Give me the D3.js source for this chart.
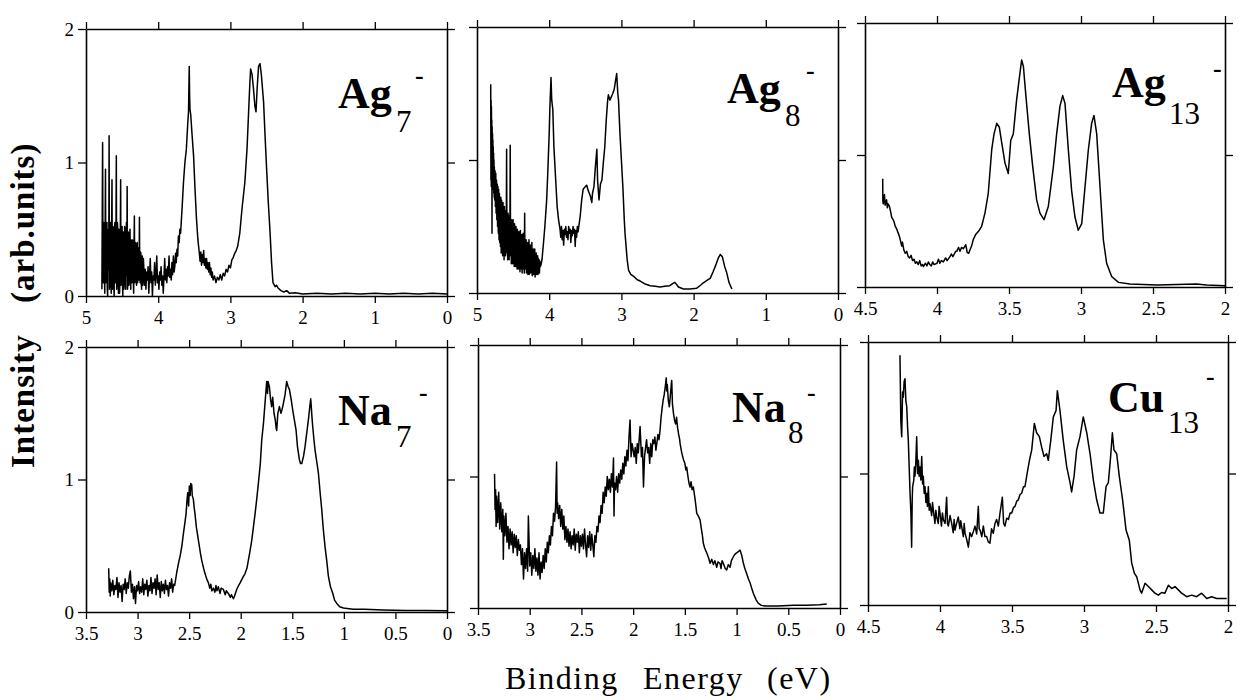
<!DOCTYPE html>
<html><head><meta charset="utf-8">
<script src="https://cdn.jsdelivr.net/npm/d3@7"></script>
<style>
html,body{margin:0;padding:0;background:#fff;}
svg text{font-family:"Liberation Serif","Tinos","Times New Roman","DejaVu Serif",serif;}
</style></head>
<body>
<svg id="chart" width="1239" height="700"></svg>
<script>
// ---------- DATA (binding energy eV, intensity arb. units) ----------
const ag7Data = [
[4.78,0.05],[4.775,0.6],[4.77,1.15],[4.765,0.3],[4.76,0.10],[4.755,0.45],[4.75,0.55],[4.745,0.15],[4.74,0.02],[4.735,0.5],
[4.73,0.95],[4.725,0.1],[4.72,0.25],[4.715,0.5],[4.71,0.55],[4.705,0.05],[4.70,0.00],[4.695,0.45],[4.69,0.50],[4.685,0.2],
[4.68,1.20],[4.675,0.05],[4.67,0.15],[4.665,0.5],[4.66,0.55],[4.655,0.1],[4.65,0.02],[4.645,0.5],[4.64,0.87],[4.635,0.05],
[4.63,0.20],[4.625,0.52],[4.62,0.50],[4.615,0.08],[4.61,0.00],[4.605,0.48],[4.60,0.55],[4.595,0.2],[4.59,0.10],[4.585,0.5],
[4.58,1.05],[4.575,0.05],[4.57,0.30],[4.565,0.55],[4.56,0.50],[4.555,0.1],[4.55,0.02],[4.545,0.5],[4.54,0.48],[4.535,0.02],
[4.53,0.12],[4.525,0.45],[4.52,0.87],[4.515,0.08],[4.51,0.25],[4.505,0.5],[4.50,0.52],[4.495,0.1],[4.49,0.00],[4.485,0.48],
[4.48,0.45],[4.475,0.05],[4.47,0.15],[4.465,0.52],[4.46,0.50],[4.455,0.12],[4.45,0.05],[4.445,0.45],[4.44,0.55],[4.435,0.15],
[4.43,0.82],[4.425,0.05],[4.42,0.10],[4.415,0.48],[4.41,0.45],[4.405,0.08],[4.40,0.20],[4.395,0.45],[4.39,0.50],[4.385,0.15],
[4.38,0.05],[4.375,0.40],[4.37,0.42],[4.365,0.1],[4.36,0.15],[4.355,0.42],[4.35,0.40],[4.345,0.12],[4.34,0.02],[4.335,0.38],
[4.33,0.60],[4.325,0.1],[4.32,0.20],[4.315,0.4],[4.31,0.38],[4.305,0.12],[4.30,0.08],[4.295,0.38],[4.29,0.40],[4.285,0.1],
[4.28,0.15],[4.275,0.36],[4.27,0.35],[4.265,0.12],[4.26,0.59],[4.255,0.15],[4.25,0.10],[4.245,0.33],[4.24,0.32],[4.235,0.1],
[4.23,0.05],[4.225,0.3],[4.22,0.30],[4.215,0.08],[4.21,0.12],[4.205,0.28],[4.20,0.22],[4.19,0.08],
[4.18,0.20],[4.17,0.05],[4.16,0.18],[4.15,0.12],[4.14,0.22],[4.13,0.02],[4.12,0.15],[4.11,0.28],[4.10,0.10],[4.09,0.18],
[4.08,0.00],[4.07,0.15],[4.06,0.12],[4.05,0.25],[4.04,0.08],[4.03,0.16],[4.02,0.30],[4.01,0.10],[4.00,0.15],[3.99,0.05],
[3.98,0.18],[3.97,0.12],[3.96,0.22],[3.95,0.08],[3.94,0.15],[3.93,0.02],[3.92,0.14],[3.91,0.28],[3.90,0.12],[3.89,0.20],
[3.88,0.10],[3.87,0.22],[3.86,0.15],[3.85,0.30],[3.84,0.14],[3.83,0.20],[3.82,0.12],[3.81,0.25],[3.80,0.16],[3.79,0.30],
[3.78,0.18],[3.77,0.22],[3.76,0.32],[3.75,0.25],[3.74,0.35],[3.73,0.30],[3.72,0.45],[3.71,0.40],[3.70,0.50],[3.69,0.47],
[3.67,0.65],[3.65,0.85],[3.63,1.00],[3.61,1.10],[3.59,1.30],[3.58,1.38],[3.575,1.55],[3.57,1.72],[3.565,1.50],[3.56,1.40],
[3.55,1.36],[3.53,1.20],[3.51,1.05],[3.49,0.80],[3.47,0.58],[3.45,0.42],[3.43,0.32],[3.42,0.26],[3.41,0.33],[3.40,0.23],
[3.39,0.31],[3.38,0.25],[3.37,0.34],[3.36,0.23],[3.35,0.28],[3.34,0.21],[3.33,0.28],[3.32,0.20],[3.31,0.25],[3.30,0.18],
[3.29,0.25],[3.28,0.16],[3.27,0.21],[3.26,0.14],[3.25,0.18],[3.24,0.12],[3.22,0.15],[3.20,0.10],[3.18,0.14],[3.16,0.12],
[3.14,0.16],[3.12,0.12],[3.10,0.17],[3.08,0.15],[3.06,0.20],[3.04,0.18],[3.02,0.23],[3.00,0.21],[2.98,0.27],[2.96,0.29],
[2.94,0.32],[2.92,0.34],[2.90,0.37],[2.87,0.47],[2.84,0.65],[2.80,0.85],[2.77,1.10],[2.75,1.35],[2.73,1.60],[2.72,1.70],
[2.70,1.66],[2.68,1.55],[2.66,1.42],[2.645,1.38],[2.63,1.55],[2.61,1.72],[2.59,1.74],[2.57,1.65],[2.54,1.45],[2.52,1.20],
[2.50,0.97],[2.475,0.70],[2.45,0.47],[2.43,0.25],[2.41,0.10],[2.38,0.07],[2.36,0.08],[2.34,0.06],[2.30,0.04],[2.26,0.03],
[2.22,0.04],[2.18,0.02],[2.10,0.025],[2.00,0.015],[1.80,0.02],[1.60,0.015],[1.40,0.02],[1.20,0.015],[1.00,0.02],[0.80,0.015],
[0.60,0.02],[0.40,0.015],[0.20,0.02],[0.00,0.015]
];
const ag8Data = [
[4.81,1.57],[4.807,0.85],[4.805,1.45],[4.802,0.80],[4.80,1.40],[4.797,0.9],[4.795,1.30],[4.792,0.45],[4.79,1.25],[4.787,0.85],
[4.785,1.20],[4.782,0.80],[4.78,1.15],[4.777,0.78],[4.775,1.10],[4.772,0.80],[4.77,1.05],[4.767,0.75],[4.765,1.0],[4.762,0.72],
[4.76,0.95],[4.755,0.70],[4.75,0.92],[4.745,0.65],[4.74,0.90],[4.735,0.60],[4.73,0.85],[4.725,0.55],[4.72,0.82],[4.715,0.50],
[4.71,0.80],[4.705,0.45],[4.70,0.78],[4.695,0.40],[4.69,0.75],[4.685,0.38],[4.68,0.72],[4.675,0.35],[4.67,0.72],[4.665,0.30],
[4.66,0.70],[4.655,0.35],[4.65,0.68],[4.645,0.28],[4.64,0.68],[4.635,0.40],[4.63,0.65],[4.625,0.25],[4.62,0.65],[4.615,0.35],
[4.61,0.62],[4.605,0.28],[4.60,0.62],[4.595,0.40],[4.59,1.08],[4.585,0.30],[4.58,0.60],[4.575,0.25],[4.57,0.60],[4.565,0.35],
[4.56,0.58],[4.555,0.25],[4.55,0.58],[4.545,0.30],[4.54,1.11],[4.535,0.28],[4.53,0.55],[4.525,0.22],[4.52,0.55],[4.515,0.30],
[4.51,0.52],[4.505,0.22],[4.50,0.55],[4.495,0.28],[4.49,0.50],[4.485,0.20],[4.48,0.52],[4.475,0.25],[4.47,0.48],[4.465,0.20],
[4.46,0.50],[4.455,0.22],[4.45,0.47],[4.445,0.18],[4.44,0.48],[4.435,0.25],[4.43,0.45],[4.425,0.18],[4.42,0.46],[4.415,0.22],
[4.41,0.44],[4.405,0.16],[4.40,0.47],[4.395,0.22],[4.39,0.42],[4.385,0.18],[4.38,0.44],[4.375,0.15],[4.37,0.42],[4.365,0.22],
[4.36,0.45],[4.355,0.18],[4.35,0.40],[4.345,0.15],[4.34,0.60],[4.335,0.18],[4.33,0.40],[4.325,0.20],[4.32,0.40],[4.315,0.15],
[4.31,0.38],[4.305,0.18],[4.30,0.38],[4.295,0.14],[4.29,0.36],[4.285,0.20],[4.28,0.40],[4.275,0.14],[4.27,0.35],[4.265,0.18],
[4.26,0.36],[4.255,0.15],[4.25,0.34],[4.245,0.18],[4.24,0.38],[4.235,0.13],[4.23,0.32],[4.225,0.16],[4.22,0.33],[4.215,0.14],
[4.21,0.30],[4.205,0.18],[4.20,0.33],[4.195,0.12],[4.19,0.30],[4.185,0.15],[4.18,0.30],[4.175,0.14],[4.17,0.28],[4.165,0.16],
[4.16,0.28],[4.155,0.14],[4.15,0.26],[4.145,0.16],[4.14,0.25],[4.135,0.15],[4.13,0.24],[4.12,0.20],[4.11,0.22],[4.10,0.25],
[4.08,0.37],[4.06,0.50],[4.035,0.70],[4.02,0.90],[4.00,1.20],[3.99,1.40],[3.975,1.62],[3.965,1.45],[3.95,1.38],[3.935,1.10],
[3.92,0.95],[3.90,0.75],[3.89,0.65],[3.87,0.55],[3.85,0.48],[3.84,0.42],[3.83,0.50],[3.82,0.40],[3.81,0.47],[3.80,0.36],
[3.79,0.48],[3.78,0.44],[3.77,0.50],[3.76,0.42],[3.75,0.46],[3.74,0.40],[3.73,0.50],[3.72,0.45],[3.71,0.48],[3.70,0.38],
[3.69,0.47],[3.68,0.43],[3.67,0.50],[3.66,0.45],[3.65,0.48],[3.64,0.35],[3.63,0.47],[3.62,0.42],[3.61,0.50],[3.60,0.46],
[3.57,0.58],[3.55,0.70],[3.53,0.78],[3.50,0.80],[3.48,0.81],[3.46,0.77],[3.43,0.73],[3.41,0.68],[3.40,0.75],[3.38,0.80],
[3.36,0.95],[3.34,1.08],[3.33,0.85],[3.31,0.70],[3.29,0.82],[3.27,0.85],[3.25,0.98],[3.23,1.10],[3.21,1.30],[3.19,1.45],
[3.18,1.49],[3.16,1.45],[3.135,1.48],[3.12,1.50],[3.10,1.53],[3.08,1.60],[3.065,1.65],[3.05,1.50],[3.04,1.45],[3.02,1.20],
[3.00,1.00],[2.98,0.80],[2.96,0.55],[2.95,0.45],[2.92,0.25],[2.90,0.17],[2.87,0.14],[2.83,0.125],[2.78,0.10],[2.74,0.09],
[2.68,0.07],[2.60,0.055],[2.53,0.05],[2.465,0.045],[2.40,0.05],[2.33,0.055],[2.29,0.07],[2.26,0.08],[2.23,0.06],[2.21,0.045],
[2.14,0.03],[2.05,0.03],[1.96,0.035],[1.90,0.06],[1.87,0.075],[1.80,0.10],[1.77,0.11],[1.73,0.16],[1.70,0.20],[1.66,0.26],
[1.63,0.29],[1.60,0.27],[1.57,0.20],[1.54,0.15],[1.51,0.08],[1.47,0.03]
];
const ag13Data = [
[4.377,0.82],[4.376,0.65],[4.373,0.63],[4.365,0.70],[4.36,0.62],[4.35,0.66],[4.345,0.60],[4.34,0.63],[4.33,0.61],[4.32,0.56],
[4.315,0.53],[4.30,0.50],[4.29,0.46],[4.28,0.44],[4.27,0.41],[4.26,0.38],[4.245,0.31],[4.24,0.34],[4.23,0.28],[4.22,0.255],
[4.21,0.27],[4.20,0.23],[4.19,0.22],[4.18,0.24],[4.17,0.20],[4.16,0.21],[4.15,0.18],[4.14,0.19],[4.13,0.17],[4.12,0.20],
[4.11,0.16],[4.10,0.17],[4.095,0.155],[4.08,0.18],[4.07,0.16],[4.06,0.19],[4.05,0.17],[4.04,0.16],[4.03,0.19],[4.02,0.17],
[4.00,0.18],[3.99,0.21],[3.98,0.18],[3.97,0.20],[3.956,0.19],[3.94,0.22],[3.93,0.20],[3.91,0.23],[3.90,0.25],[3.89,0.23],
[3.87,0.27],[3.863,0.27],[3.85,0.30],[3.84,0.27],[3.83,0.30],[3.817,0.29],[3.80,0.32],[3.79,0.26],[3.78,0.255],[3.76,0.31],
[3.748,0.36],[3.73,0.40],[3.713,0.42],[3.69,0.46],[3.667,0.56],[3.644,0.71],[3.62,1.04],[3.604,1.16],[3.585,1.24],[3.567,1.21],
[3.55,1.09],[3.528,0.94],[3.505,0.86],[3.488,1.11],[3.47,1.16],[3.447,1.42],[3.424,1.62],[3.412,1.72],[3.40,1.67],[3.382,1.44],
[3.359,1.16],[3.335,0.91],[3.308,0.66],[3.285,0.56],[3.257,0.51],[3.227,0.61],[3.192,0.91],[3.169,1.16],[3.146,1.37],[3.127,1.45],
[3.111,1.39],[3.088,1.04],[3.065,0.73],[3.042,0.53],[3.019,0.43],[2.995,0.48],[2.972,0.76],[2.949,1.04],[2.926,1.24],[2.91,1.30],
[2.891,1.16],[2.868,0.76],[2.845,0.36],[2.822,0.18],[2.787,0.08],[2.74,0.035],[2.66,0.023],[2.474,0.015],[2.20,0.023],[2.127,0.015],
[2.0,0.01]
];
const na7Data = [
[3.28,0.33],[3.275,0.15],[3.27,0.25],[3.265,0.12],[3.26,0.22],[3.25,0.16],[3.24,0.24],[3.23,0.13],[3.22,0.20],[3.21,0.17],
[3.20,0.26],[3.19,0.11],[3.18,0.22],[3.17,0.15],[3.16,0.20],[3.15,0.08],[3.14,0.21],[3.13,0.17],[3.12,0.25],[3.11,0.14],
[3.10,0.22],[3.09,0.18],[3.08,0.27],[3.07,0.31],[3.06,0.15],[3.05,0.21],[3.04,0.10],[3.03,0.19],[3.02,0.065],[3.01,0.20],
[3.00,0.16],[2.99,0.23],[2.98,0.14],[2.97,0.19],[2.96,0.15],[2.95,0.25],[2.94,0.13],[2.93,0.21],[2.92,0.17],[2.91,0.24],
[2.90,0.12],[2.89,0.20],[2.88,0.16],[2.87,0.26],[2.86,0.14],[2.85,0.22],[2.84,0.18],[2.83,0.25],[2.82,0.13],[2.81,0.28],
[2.80,0.17],[2.79,0.22],[2.78,0.11],[2.77,0.23],[2.76,0.16],[2.75,0.21],[2.74,0.14],[2.73,0.24],[2.72,0.17],[2.71,0.20],
[2.70,0.12],[2.69,0.22],[2.68,0.18],[2.67,0.25],[2.66,0.15],[2.65,0.21],[2.64,0.20],[2.62,0.30],[2.60,0.38],[2.588,0.42],
[2.57,0.50],[2.556,0.59],[2.54,0.68],[2.53,0.74],[2.52,0.85],[2.514,0.90],[2.505,0.80],[2.498,0.95],[2.49,0.88],[2.485,0.97],
[2.475,0.96],[2.47,0.88],[2.459,0.85],[2.45,0.78],[2.443,0.74],[2.43,0.64],[2.41,0.54],[2.39,0.44],[2.378,0.39],[2.36,0.33],
[2.346,0.29],[2.33,0.25],[2.313,0.22],[2.30,0.18],[2.29,0.21],[2.28,0.16],[2.265,0.18],[2.25,0.15],[2.24,0.20],[2.23,0.16],
[2.217,0.19],[2.20,0.14],[2.19,0.18],[2.168,0.17],[2.15,0.13],[2.14,0.16],[2.12,0.14],[2.10,0.11],[2.09,0.13],[2.071,0.10],
[2.06,0.12],[2.039,0.17],[2.02,0.20],[2.006,0.22],[1.98,0.26],[1.958,0.29],[1.94,0.33],[1.926,0.39],[1.91,0.46],[1.893,0.54],
[1.877,0.64],[1.861,0.74],[1.845,0.85],[1.829,0.97],[1.81,1.12],[1.796,1.30],[1.78,1.42],[1.77,1.52],[1.76,1.62],[1.748,1.74],
[1.74,1.65],[1.735,1.74],[1.722,1.70],[1.71,1.60],[1.70,1.55],[1.69,1.62],[1.677,1.50],[1.665,1.45],[1.655,1.38],[1.651,1.37],
[1.64,1.50],[1.625,1.55],[1.61,1.50],[1.602,1.52],[1.59,1.56],[1.58,1.60],[1.57,1.64],[1.554,1.74],[1.54,1.70],[1.528,1.68],
[1.51,1.60],[1.495,1.52],[1.48,1.45],[1.463,1.37],[1.45,1.25],[1.431,1.15],[1.42,1.12],[1.408,1.12],[1.39,1.18],[1.376,1.25],
[1.36,1.35],[1.344,1.45],[1.33,1.55],[1.321,1.61],[1.31,1.48],[1.302,1.40],[1.29,1.30],[1.279,1.22],[1.26,1.12],[1.247,1.05],
[1.23,0.90],[1.214,0.77],[1.20,0.63],[1.182,0.49],[1.165,0.38],[1.15,0.27],[1.13,0.19],[1.107,0.14],[1.09,0.09],[1.069,0.065],
[1.04,0.04],[1.004,0.03],[0.95,0.025],[0.907,0.02],[0.80,0.02],[0.616,0.015],[0.40,0.012],[0.20,0.012],[0.00,0.01]
];
const na8Data = [
[3.34,1.02],[3.335,0.75],[3.33,0.90],[3.325,0.62],[3.32,0.85],[3.31,0.65],[3.30,0.88],[3.29,0.60],[3.28,0.80],[3.27,0.58],
[3.26,0.75],[3.255,0.37],[3.25,0.70],[3.24,0.55],[3.23,0.72],[3.22,0.50],[3.21,0.62],[3.20,0.45],[3.19,0.60],[3.18,0.48],
[3.17,0.58],[3.16,0.42],[3.15,0.56],[3.14,0.46],[3.13,0.55],[3.12,0.40],[3.11,0.52],[3.10,0.44],[3.09,0.48],[3.08,0.33],
[3.07,0.45],[3.06,0.22],[3.05,0.42],[3.04,0.30],[3.03,0.45],[3.02,0.28],[3.013,0.70],[3.00,0.32],[2.99,0.42],[2.98,0.25],
[2.97,0.40],[2.96,0.30],[2.95,0.45],[2.94,0.28],[2.93,0.38],[2.92,0.25],[2.91,0.42],[2.90,0.22],[2.89,0.35],[2.88,0.27],
[2.87,0.40],[2.86,0.30],[2.85,0.45],[2.84,0.35],[2.83,0.50],[2.82,0.42],[2.81,0.55],[2.80,0.48],[2.79,0.62],[2.78,0.55],
[2.77,0.72],[2.76,0.66],[2.75,0.77],[2.74,1.11],[2.735,0.72],[2.73,0.80],[2.72,0.68],[2.71,0.78],[2.70,0.62],[2.69,0.75],
[2.68,0.60],[2.67,0.70],[2.66,0.52],[2.65,0.62],[2.64,0.50],[2.63,0.60],[2.62,0.47],[2.61,0.58],[2.60,0.45],[2.59,0.55],
[2.58,0.48],[2.57,0.60],[2.56,0.44],[2.55,0.56],[2.54,0.50],[2.53,0.58],[2.52,0.42],[2.51,0.55],[2.50,0.47],[2.49,0.56],
[2.48,0.45],[2.47,0.60],[2.46,0.48],[2.45,0.39],[2.44,0.55],[2.43,0.46],[2.42,0.58],[2.41,0.44],[2.40,0.56],[2.39,0.48],
[2.38,0.39],[2.37,0.55],[2.36,0.50],[2.35,0.62],[2.34,0.58],[2.33,0.70],[2.32,0.65],[2.31,0.78],[2.30,0.72],[2.29,0.88],
[2.28,0.80],[2.27,0.92],[2.26,0.85],[2.25,1.00],[2.24,0.90],[2.23,0.98],[2.22,0.88],[2.21,1.02],[2.20,0.92],[2.19,1.14],
[2.185,0.70],[2.18,0.95],[2.17,0.90],[2.16,1.00],[2.15,0.88],[2.14,1.02],[2.13,0.95],[2.12,1.05],[2.11,0.98],[2.10,1.10],
[2.09,1.02],[2.08,1.15],[2.07,1.08],[2.06,1.20],[2.05,1.12],[2.04,1.30],[2.03,1.43],[2.02,1.15],[2.01,1.25],[2.00,1.20],
[1.99,1.15],[1.98,1.22],[1.97,1.10],[1.96,1.25],[1.95,1.18],[1.94,1.30],[1.933,1.38],[1.92,1.15],[1.91,1.22],[1.90,0.92],
[1.89,1.15],[1.88,1.22],[1.87,1.28],[1.86,1.18],[1.85,1.22],[1.84,1.10],[1.83,1.25],[1.82,1.15],[1.81,1.28],[1.80,1.25],
[1.79,1.30],[1.78,1.20],[1.77,1.26],[1.76,1.32],[1.75,1.28],[1.74,1.35],[1.73,1.45],[1.72,1.52],[1.71,1.58],[1.70,1.62],
[1.69,1.68],[1.68,1.75],[1.675,1.65],[1.67,1.70],[1.66,1.58],[1.65,1.53],[1.64,1.62],[1.63,1.71],[1.627,1.73],[1.62,1.55],
[1.61,1.48],[1.60,1.43],[1.59,1.40],[1.58,1.45],[1.572,1.38],[1.56,1.32],[1.55,1.28],[1.546,1.25],[1.53,1.18],[1.514,1.13],
[1.50,1.10],[1.49,1.05],[1.482,1.07],[1.47,1.00],[1.46,0.95],[1.45,0.92],[1.44,0.96],[1.43,0.90],[1.418,0.92],[1.40,0.82],
[1.385,0.72],[1.37,0.70],[1.353,0.67],[1.34,0.60],[1.33,0.55],[1.321,0.49],[1.31,0.46],[1.30,0.44],[1.289,0.42],[1.27,0.38],
[1.256,0.34],[1.24,0.37],[1.224,0.33],[1.21,0.36],[1.192,0.31],[1.18,0.35],[1.16,0.34],[1.15,0.30],[1.14,0.36],[1.128,0.34],
[1.11,0.30],[1.095,0.29],[1.08,0.33],[1.063,0.31],[1.05,0.36],[1.031,0.39],[1.015,0.41],[0.999,0.42],[0.98,0.43],[0.966,0.44],
[0.95,0.40],[0.934,0.34],[0.92,0.30],[0.902,0.26],[0.885,0.22],[0.869,0.19],[0.85,0.14],[0.837,0.11],[0.81,0.06],[0.789,0.035],
[0.76,0.02],[0.724,0.015],[0.60,0.015],[0.45,0.02],[0.322,0.02],[0.20,0.025],[0.128,0.03]
];
const cu13Data = [
[4.278,1.90],[4.272,1.40],[4.266,1.28],[4.26,1.62],[4.255,1.58],[4.249,1.70],[4.243,1.72],[4.237,1.55],[4.231,1.51],[4.225,1.35],
[4.22,1.25],[4.214,1.05],[4.208,0.85],[4.202,0.70],[4.197,0.44],[4.193,0.80],[4.19,0.90],[4.182,0.95],[4.178,1.05],[4.174,0.98],
[4.168,1.08],[4.162,1.28],[4.156,1.00],[4.15,1.10],[4.145,0.98],[4.139,1.05],[4.133,0.95],[4.127,1.13],[4.121,0.92],[4.116,0.98],
[4.11,0.85],[4.104,0.90],[4.098,0.78],[4.093,0.85],[4.087,0.75],[4.081,0.90],[4.075,0.72],[4.069,0.77],[4.058,0.68],[4.052,0.78],
[4.046,0.72],[4.035,0.62],[4.029,0.72],[4.023,0.67],[4.012,0.62],[4.006,0.75],[4.0,0.70],[3.99,0.60],[3.983,0.70],[3.977,0.65],
[3.965,0.62],[3.954,0.82],[3.948,0.62],[3.942,0.60],[3.93,0.68],[3.919,0.62],[3.908,0.55],[3.902,0.65],[3.896,0.57],[3.885,0.62],
[3.873,0.67],[3.862,0.58],[3.856,0.64],[3.85,0.60],[3.838,0.52],[3.832,0.62],[3.826,0.545],[3.815,0.50],[3.803,0.44],[3.792,0.55],
[3.78,0.52],[3.768,0.56],[3.757,0.60],[3.745,0.54],[3.734,0.75],[3.728,0.58],[3.722,0.57],[3.71,0.52],[3.699,0.60],[3.688,0.52],
[3.676,0.52],[3.665,0.48],[3.653,0.47],[3.642,0.58],[3.63,0.545],[3.618,0.62],[3.607,0.65],[3.595,0.60],[3.583,0.70],[3.567,0.82],
[3.558,0.62],[3.549,0.60],[3.537,0.66],[3.525,0.65],[3.513,0.70],[3.502,0.70],[3.49,0.74],[3.479,0.75],[3.467,0.79],[3.456,0.80],
[3.444,0.84],[3.433,0.85],[3.42,0.90],[3.41,0.90],[3.398,0.98],[3.387,1.05],[3.375,1.12],[3.363,1.18],[3.345,1.38],[3.329,1.31],
[3.31,1.28],[3.294,1.20],[3.278,1.13],[3.259,1.15],[3.248,1.10],[3.231,1.25],[3.213,1.43],[3.194,1.48],[3.185,1.63],[3.167,1.48],
[3.144,1.25],[3.12,1.05],[3.097,0.93],[3.086,0.86],[3.069,0.98],[3.051,1.18],[3.028,1.28],[3.005,1.43],[2.981,1.31],[2.958,1.15],
[2.935,0.95],[2.912,0.80],[2.889,0.70],[2.866,0.70],[2.847,0.90],[2.831,0.93],[2.815,1.13],[2.803,1.31],[2.792,1.18],[2.773,1.15],
[2.755,0.98],[2.732,0.80],[2.708,0.57],[2.685,0.49],[2.669,0.32],[2.65,0.24],[2.634,0.215],[2.611,0.115],[2.60,0.09],[2.576,0.165],
[2.553,0.14],[2.53,0.115],[2.507,0.09],[2.484,0.075],[2.461,0.095],[2.438,0.09],[2.414,0.15],[2.391,0.125],[2.368,0.14],[2.345,0.115],
[2.322,0.09],[2.287,0.063],[2.252,0.075],[2.218,0.063],[2.183,0.09],[2.148,0.05],[2.113,0.063],[2.079,0.05],[2.009,0.05]
];
const ticksAg = [5,4,3,2,1,0];
const ticksNa = [3.5,3,2.5,2,1.5,1,0.5,0];
const ticksWide = [4.5,4,3.5,3,2.5,2];
const yTicks = [0,1,2];
const panelNames = ["Ag","Ag","Ag","Na","Na","Cu"];
const panelSubs = ["7","8","13","7","8","13"];
const xTitle = ["Binding","Energy","(eV)"];
const yTitle = ["Intensity","(arb.units)"];

// ---------- LAYOUT ----------
const FONT = "Liberation Serif";
const panels = [
 {data:ag7Data,  dom:[5,0],   ticks:ticksAg,  L:86,  R:447,  T:29,  B:296, yl:true,
  lab:{x:338,y:108,sx:396,sy:132,dx:415,dy:84}},
 {data:ag8Data,  dom:[5,0],   ticks:ticksAg,  L:477, R:838,  T:27,  B:293, yl:false,
  lab:{x:727,y:103,sx:785,sy:126,dx:806,dy:79}},
 {data:ag13Data, dom:[4.5,2], ticks:ticksWide,L:865, R:1225, T:23,  B:287, yl:false,
  lab:{x:1112,y:97,sx:1169,sy:124,dx:1213,dy:77}},
 {data:na7Data,  dom:[3.5,0], ticks:ticksNa,  L:86,  R:447,  T:347, B:612, yl:true,
  lab:{x:338,y:425,sx:396,sy:447,dx:419,dy:401}},
 {data:na8Data,  dom:[3.5,0], ticks:ticksNa,  L:478, R:840,  T:345, B:608, yl:false,
  lab:{x:732,y:422,sx:788,sy:443,dx:807,dy:401}},
 {data:cu13Data, dom:[4.5,2], ticks:ticksWide,L:868, R:1228, T:342, B:605, yl:false,
  lab:{x:1108,y:412,sx:1168,sy:433,dx:1206,dy:385}}
];

const svg = d3.select("#chart");
const fmt = d => String(d);

panels.forEach((p,i) => {
  const x = d3.scaleLinear().domain(p.dom).range([p.L,p.R]);
  const y = d3.scaleLinear().domain([0,2]).range([p.B,p.T]);
  const g = svg.append("g");

  const styleAxis = sel => {
    sel.attr("font-family", null).attr("font-size", null);
    sel.select(".domain").attr("stroke","#000").attr("stroke-width",1.6);
    sel.selectAll(".tick line").attr("stroke","#000").attr("stroke-width",1.3);
    sel.selectAll(".tick text").attr("font-family",FONT)
       .attr("font-size",19).attr("fill","#000");
  };

  g.append("g").attr("transform",`translate(0,${p.B})`)
    .call(d3.axisBottom(x).tickValues(p.ticks).tickSize(7).tickSizeOuter(0).tickPadding(8).tickFormat(fmt))
    .call(styleAxis);
  g.append("g").attr("transform",`translate(0,${p.T})`)
    .call(d3.axisTop(x).tickValues(p.ticks).tickSize(7).tickSizeOuter(0).tickFormat(""))
    .call(styleAxis);
  g.append("g").attr("transform",`translate(${p.L},0)`)
    .call(d3.axisLeft(y).tickValues(yTicks).tickSize(8).tickSizeOuter(0).tickPadding(4).tickFormat(p.yl ? fmt : ""))
    .call(styleAxis);
  g.append("g").attr("transform",`translate(${p.R},0)`)
    .call(d3.axisRight(y).tickValues(yTicks).tickSize(8).tickSizeOuter(0).tickFormat(""))
    .call(styleAxis);

  const line = d3.line().x(d => x(d[0])).y(d => y(d[1]));
  g.append("path").datum(p.data).attr("d",line)
    .attr("fill","none").attr("stroke","#000").attr("stroke-width",1.5)
    .attr("stroke-linejoin","round");
});

// panel labels
panels.forEach((p,i) => {
  const lb = p.lab;
  svg.append("text").attr("x",lb.x).attr("y",lb.y).attr("font-family",FONT)
    .attr("font-size",44).attr("font-weight","bold").text(panelNames[i]);
  svg.append("text").attr("x",lb.sx).attr("y",lb.sy).attr("font-family",FONT)
    .attr("font-size",31).text(panelSubs[i]);
  svg.append("text").attr("x",lb.dx).attr("y",lb.dy).attr("font-family",FONT)
    .attr("font-size",26).attr("font-weight","bold").text("-");
});

// axis titles
[505,643,767].forEach((xx,k) => {
  svg.append("text").attr("x",xx).attr("y",689).attr("font-family",FONT)
    .attr("font-size",32).attr("letter-spacing","1.5px").text(xTitle[k]);
});
[-468,-303].forEach((yy,k) => {
  svg.append("text").attr("transform","rotate(-90)").attr("x",yy).attr("y",34)
    .attr("font-family",FONT).attr("font-size",33).attr("font-weight","bold")
    .attr("letter-spacing","1px").text(yTitle[k]);
});

// re-apply the family once the font set is ready (forces a re-layout with the loaded face)
if (document.fonts && document.fonts.load) {
  Promise.all([document.fonts.load('19px "Liberation Serif"'), document.fonts.load('bold 33px "Liberation Serif"')])
    .then(() => svg.selectAll("text").attr("font-family", FONT)).catch(() => {});
}
</script>
</body></html>
